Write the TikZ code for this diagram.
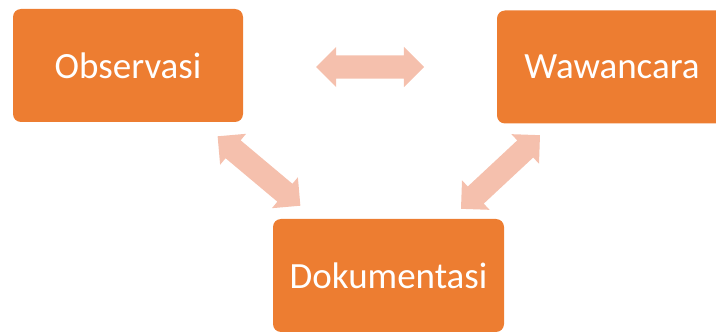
\documentclass[tikz,border=0pt]{standalone}
\usepackage{fontspec}
\setmainfont{Carlito}
\usetikzlibrary{shapes.arrows}
\definecolor{boxorange}{HTML}{ED7D31}
\definecolor{arrowpink}{HTML}{F5C0AD}
\begin{document}
\begin{tikzpicture}[x=1pt,y=-1pt,
  stepbox/.style={rectangle, rounded corners=8pt, fill=boxorange, draw=none,
    minimum width=230pt, minimum height=113pt, text=white,
    font=\fontsize{37}{40}\selectfont, inner sep=0pt},
  link/.style={double arrow, fill=arrowpink, draw=none, minimum height=108pt,
    minimum width=40pt, double arrow head extend=8.5pt,
    double arrow tip angle=90, inner xsep=0pt, inner ysep=11.5pt}]
\useasboundingbox (0,0) rectangle (716,334);
\clip (0,0) rectangle (716,334);
\node[stepbox] (obs) at (128,65.5) {Observasi};
\node[stepbox] (waw) at (612,67) {Wawancara};
\node[stepbox, minimum width=231pt] (dok) at (388.5,275.5) {Dokumentasi};
\node[link] (ow) at (370,67) {};
\node[link, rotate=-40] (od) at (259,171) {};
\node[link, rotate=43] (wd) at (500.5,172) {};
\end{tikzpicture}
\end{document}
